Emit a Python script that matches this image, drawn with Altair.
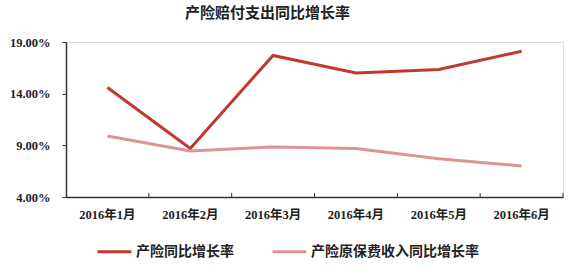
import altair as alt
import pandas as pd

months = ["2016年1月", "2016年2月", "2016年3月", "2016年4月", "2016年5月", "2016年6月"]
series_names = ["产险同比增长率", "产险原保费收入同比增长率"]
claims_growth = [14.6, 8.7, 17.7, 16.0, 16.35, 18.1]
premium_growth = [9.9, 8.45, 8.85, 8.7, 7.7, 7.0]
y_ticks = [4, 9, 14, 19]

rows = []
for m, a, b in zip(months, claims_growth, premium_growth):
    rows.append({"month": m, "series": series_names[0], "value": a})
    rows.append({"month": m, "series": series_names[1], "value": b})
df = pd.DataFrame(rows)
df_m = pd.DataFrame({"month": months})

FONT = "Liberation Serif, Noto Sans CJK SC"
colors = ["#C0392F", "#DA9694"]

xscale = alt.Scale(type="band", domain=months, paddingInner=0, paddingOuter=0)

lines = alt.Chart(df).mark_line(strokeWidth=3).encode(
    x=alt.X("month:N", scale=xscale, sort=months,
            axis=alt.Axis(title=None, ticks=False, labelAngle=0, labelFont=FONT,
                          labelFontSize=12.5, labelFontWeight="bold", labelColor="#222",
                          domainColor="#333", domainWidth=1.5, labelPadding=11)),
    y=alt.Y("value:Q", scale=alt.Scale(domain=[4, 19], nice=False, zero=False),
            axis=alt.Axis(title=None, values=y_ticks, grid=False,
                          labelExpr="format(datum.value, '.2f') + '%'",
                          labelFont=FONT, labelFontSize=12.5, labelFontWeight="bold",
                          labelColor="#222", domainColor="#333", domainWidth=1.5,
                          tickColor="#333", tickSize=4, labelPadding=12)),
    color=alt.Color("series:N", scale=alt.Scale(domain=series_names, range=colors),
                    legend=alt.Legend(title=None, orient="none", legendX=30, legendY=191,
                                      direction="horizontal", symbolType="stroke",
                                      symbolSize=1150, symbolStrokeWidth=3,
                                      labelFont=FONT, labelFontSize=14,
                                      labelFontWeight="bold", labelColor="#222",
                                      labelLimit=400,
                                      columnPadding=32, labelOffset=3)),
)

ticks = alt.Chart(df_m).mark_rule(color="#333", strokeWidth=1).encode(
    x=alt.X("month:N", scale=xscale, sort=months, bandPosition=1),
    y=alt.value(151),
    y2=alt.value(155),
)

chart = alt.layer(lines, ticks).properties(
    width=497, height=155,
    autosize=alt.AutoSizeParams(type="none"),
    padding={"left": 66, "top": 42, "right": 6, "bottom": 71},
    title=alt.TitleParams("产险赔付支出同比增长率", font=FONT, fontSize=15,
                          fontWeight="bold", color="#222", offset=15, anchor="middle", dx=-47),
).configure_view(stroke=None).configure(background="white")

chart.save("out.html", embed_options={"renderer": "svg", "actions": False})
